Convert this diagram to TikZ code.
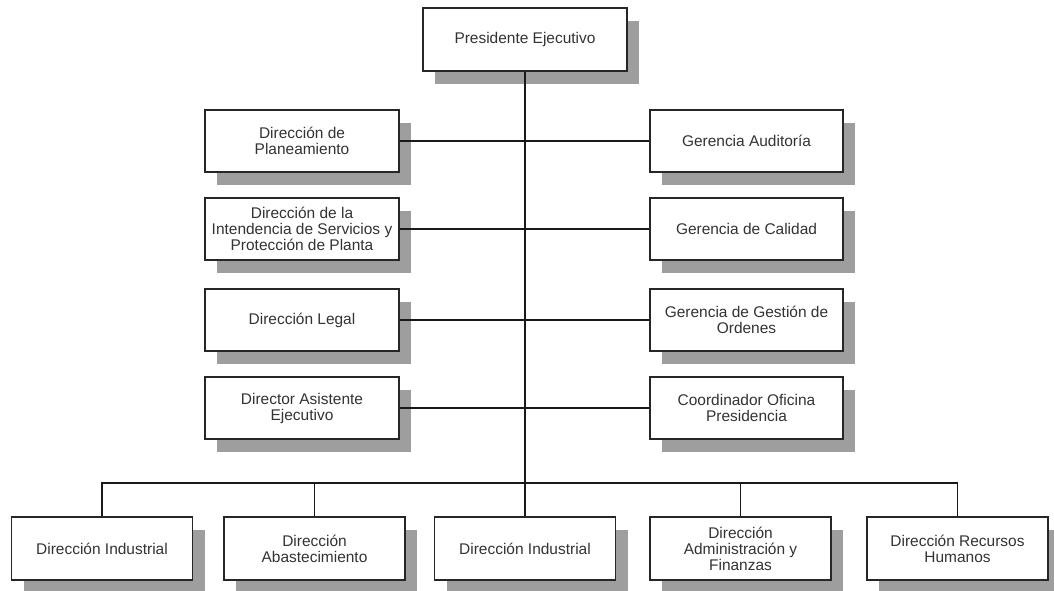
\documentclass[tikz,border=0pt]{standalone}
\usepackage{fontspec}
\setmainfont{Liberation Sans}
\usetikzlibrary{shadows}

\begin{document}
\begin{tikzpicture}[x=0.75pt,y=0.75pt,yscale=-1,xscale=1,
  cargo/.style={draw=black!85, line width=1.2pt, fill=white, align=center,
    inner sep=0pt, text=black!80, font=\fontsize{11.6}{12}\selectfont,
    drop shadow={shadow xshift=9pt, shadow yshift=-9.75pt, fill=black!38, opacity=1}},
  izq/.style={cargo, minimum width=145.5pt, minimum height=46.5pt},
  der/.style={cargo, minimum width=144.75pt, minimum height=46.5pt},
  abajo/.style={cargo, minimum width=135.75pt, minimum height=47.25pt},
  linea/.style={draw=black!90, line width=1.3pt}]
\useasboundingbox (0,0) rectangle (1054,590);

% Text Node
\node [cargo, minimum width=153pt, minimum height=47.25pt] (pres) at (525,39.5) {Presidente Ejecutivo};

% Text Node
\node [izq] (plan) at (302,141) {Dirección de\\Planeamiento};
\node [izq] (inten) at (302,229) {Dirección de la\\Intendencia de Servicios y\\Protección de Planta};
\node [izq] (legal) at (302,320) {Dirección Legal};
\node [izq] (asist) at (302,408) {Director Asistente\\Ejecutivo};

% Text Node
\node [der] (audit) at (746.5,141) {Gerencia Auditoría};
\node [der] (calid) at (746.5,229) {Gerencia de Calidad};
\node [der] (orden) at (746.5,320) {Gerencia de Gestión de\\Ordenes};
\node [der] (coord) at (746.5,408) {Coordinador Oficina\\Presidencia};

% Text Node
\node [abajo] (indA) at (102,548.5) {Dirección Industrial};
\node [abajo] (abast) at (314.5,548.5) {Dirección\\Abastecimiento};
\node [abajo] (indB) at (525,548.5) {Dirección Industrial};
\node [abajo] (admin) at (740.5,548.5) {Dirección\\Administración y\\Finanzas};
\node [abajo] (rrhh) at (957.5,548.5) {Dirección Recursos\\Humanos};

%Straight Lines
\coordinate (bus) at (525,483);
\draw [linea] (pres.south) -- (indB.north);
\draw [linea] (plan.east) -- (audit.west);
\draw [linea] (inten.east) -- (calid.west);
\draw [linea] (legal.east) -- (orden.west);
\draw [linea] (asist.east) -- (coord.west);

%Straight Lines
\draw [linea] (indA.north) |- (bus) -| (rrhh.north);
\draw [linea] (abast.north) -- (abast.north |- bus);
\draw [linea] (admin.north) -- (admin.north |- bus);

\end{tikzpicture}
\end{document}
